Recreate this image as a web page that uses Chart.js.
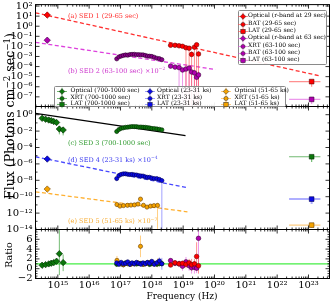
<!DOCTYPE html>
<html>
<head>
<meta charset="utf-8">
<script src="https://cdn.jsdelivr.net/npm/chart.js@4.4.1/dist/chart.umd.min.js"></script>
<style>
  html, body { margin: 0; padding: 0; background: #fff; }
  #fig { position: relative; width: 336px; height: 308px; overflow: hidden; font-family: "DejaVu Serif", serif; color: #000; }
  #fig canvas { position: absolute; left: 0; top: 0; }
  .t { position: absolute; white-space: nowrap; line-height: 1; transform: translateY(-50%); }
  .c { position: absolute; white-space: nowrap; line-height: 1; transform: translate(-50%, -50%); }
  .rot { position: absolute; white-space: nowrap; line-height: 1; transform: translate(-50%, -50%) rotate(-90deg); }
  sup { font-size: 70%; vertical-align: 0; position: relative; top: -0.5em; }
  .box { position: absolute; box-sizing: border-box; background: rgba(255,255,255,0.92); border: 1px solid #8a8a8a; border-radius: 1.5px; }
  .mk { position: absolute; transform: translate(-50%, -50%); display: block; }
</style>
</head>
<body>
<div id="fig">
  <canvas id="cTop" width="336" height="308"></canvas>
  <canvas id="cMid" width="336" height="308"></canvas>
  <canvas id="cRat" width="336" height="308"></canvas>
</div>
<script>
// axis ranges and tick labels
const xMin = 1.94e14, xMax = 4.68e23;
const topMin = 1.1e-8, topMax = 139;
const midMin = 1e-14, midMax = 10;
const ratMin = -2, ratMax = 8;
const xTicks = [1e15, 1e16, 1e17, 1e18, 1e19, 1e20, 1e21, 1e22, 1e23];
const topTicks = [1e2, 1e1, 1, 1e-1, 1e-2, 1e-3, 1e-4, 1e-5, 1e-6, 1e-7];
const midTicks = [1, 1e-2, 1e-4, 1e-6, 1e-8, 1e-10, 1e-12, 1e-14];
const ratTicks = [-2, 0, 2, 4, 6];

// frequencies (Hz)
const optNu = [4.6e14];
const sed3OptNu = [3.16e14, 4.07e14, 5.13e14, 6.17e14, 7.41e14, 9.12e14, 1.12e15, 1.48e15];
const xrtNu = [7.59e16, 8.91e16, 1.05e17, 1.23e17, 1.45e17, 1.70e17, 2.00e17, 2.34e17, 2.75e17, 3.24e17, 3.80e17,
               4.47e17, 5.25e17, 6.17e17, 7.24e17, 8.51e17, 1.00e18, 1.20e18, 1.45e18, 1.74e18, 2.09e18];
const xrt5Nu = [7.73e16, 9.64e16, 1.25e17, 1.67e17, 2.16e17, 2.80e17, 3.62e17, 4.35e17, 5.42e17, 7.01e17, 9.08e17, 1.17e18, 1.52e18];
const batNu = [3.98e18, 5.50e18, 7.41e18, 9.55e18, 1.23e19, 1.55e19, 1.86e19, 2.29e19, 2.69e19, 3.09e19];
const latNu = [1.26e23], latNuLo = [2.4e22], latNuHi = [2.4e23];

// SED 1 (29-65 sec)
const sed1OptF = [12.8], sed1OptLo = [10.2], sed1OptHi = [16.0];
const sed1BatF  = [1.29e-2, 1.29e-2, 1.15e-2, 1.02e-2, 7.4e-3, 6.6e-3, 1.6e-3, 8.3e-3, 1.45e-2, 1.76e-3];
const sed1BatLo = [9.5e-3, 9.6e-3, 8.4e-3, 7.2e-3, 1e-9, 1e-9, 1e-9, 1e-9, 1e-9, 1e-9];
const sed1BatHi = [1.7e-2, 1.7e-2, 1.55e-2, 1.4e-2, 1.1e-2, 1.0e-2, 3.2e-3, 1.3e-2, 2.1e-2, 3.6e-3];
const sed1LatF = [3.24e-6], sed1LatLo = [1.0e-6], sed1LatHi = [4.6e-6];
const sed1ModelNu = [1.94e14, 2.25e23], sed1ModelF = [21.3, 1.21e-5];

// SED 2 (63-100 sec), x1e-2
const sed2OptF = [4.1e-2], sed2OptLo = [3.3e-2], sed2OptHi = [5.1e-2];
const sed2XrtF = [5.8e-4, 9.1e-4, 1.10e-3, 1.26e-3, 1.41e-3, 1.35e-3, 1.57e-3, 1.62e-3, 1.64e-3, 1.50e-3, 1.51e-3,
                  1.47e-3, 1.45e-3, 1.26e-3, 1.10e-3, 1.06e-3, 1.01e-3, 8.3e-4, 6.7e-4, 6.1e-4, 4.8e-4];
const sed2XrtErr = [0.35, 0.28, 0.22, 0.2, 0.2, 0.2, 0.2, 0.2, 0.2, 0.2, 0.2, 0.2, 0.2, 0.2, 0.22, 0.22, 0.24, 0.26, 0.28, 0.3, 0.35];
const sed2BatF  = [1.11e-4, 8.9e-5, 7.9e-5, 4.6e-5, 5.7e-5, 7.1e-5, 2.9e-5, 2.35e-5, 8.7e-6, 1.5e-5];
const sed2BatLo = [7.8e-5, 6.0e-5, 1e-9, 1e-9, 1e-9, 1e-9, 1e-9, 1e-9, 1e-9, 1e-9];
const sed2BatHi = [1.5e-4, 1.25e-4, 1.15e-4, 7.5e-5, 9e-5, 1.1e-4, 5.5e-5, 4.8e-5, 2.2e-5, 3.6e-5];
const sed2LatF = [5.6e-8], sed2LatLo = [2.0e-8], sed2LatHi = [9.3e-8];
const sed2ModelNu = [1.94e14, 1.08e20], sed2ModelF = [2.5e-2, 5.1e-5];

// SED 3 (700-1000 sec)
const sed3OptF  = [0.363, 0.282, 0.225, 0.19, 0.148, 0.112, 0.0179, 0.0136];
const sed3OptLo = [0.31, 0.24, 0.19, 0.16, 0.125, 0.094, 0.004, 0.003];
const sed3OptHi = [0.42, 0.33, 0.26, 0.22, 0.17, 0.13, 0.042, 0.03];
const sed3XrtF = [8.9e-3, 1.56e-2, 2.18e-2, 2.51e-2, 2.90e-2, 3.0e-2, 3.33e-2, 3.6e-2, 3.52e-2, 3.43e-2, 3.1e-2,
                  3.15e-2, 2.98e-2, 2.9e-2, 2.66e-2, 2.44e-2, 2.1e-2, 2.07e-2, 1.85e-2, 1.65e-2, 1.43e-2];
const sed3XrtErr = [0.45, 0.35, 0.3, 0.28, 0.25, 0.25, 0.25, 0.25, 0.25, 0.25, 0.25, 0.25, 0.25, 0.25, 0.27, 0.27, 0.28, 0.3, 0.3, 0.33, 0.4];
const sed3LatF = [7.45e-6], sed3LatLo = [1.7e-6], sed3LatHi = [1.2e-5];
const sed3ModelNu = [1.94e14, 1.19e19], sed3ModelF = [1.48, 2.88e-3];

// SED 4 (23-31 ks), x1e-4
const sed4OptF = [3.9e-6], sed4OptLo = [3.2e-6], sed4OptHi = [4.7e-6];
const sed4XrtF = [1.62e-8, 3.77e-8, 5.28e-8, 6.08e-8, 6.3e-8, 5.43e-8, 4.99e-8, 5.28e-8, 4.59e-8, 4.4e-8, 3.77e-8,
                  3.37e-8, 3.3e-8, 2.62e-8, 2.27e-8, 2.3e-8, 1.87e-8, 1.62e-8, 1.6e-8, 1.29e-8, 9.2e-9];
const sed4XrtErr = [0.5, 0.35, 0.3, 0.28, 0.28, 0.28, 0.28, 0.28, 0.3, 0.3, 0.3, 0.3, 0.32, 0.32, 0.34, 0.34, 0.36, 0.38, 0.4, 0.45, 1];
const sed4LatF = [5.1e-11], sed4LatLo = [1.3e-11], sed4LatHi = [8.9e-11];
const sed4ModelNu = [1.94e14, 1.28e19], sed4ModelF = [7.45e-6, 1.29e-9];

// SED 5 (51-65 ks), x1e-7
const sed5OptF = [8.5e-10], sed5OptLo = [7.0e-10], sed5OptHi = [1.03e-9];
const sed5XrtF = [1.09e-11, 7.1e-12, 8.2e-12, 8.9e-12, 9.4e-12, 1.0e-11, 1.25e-11, 5.1e-11, 8.9e-12, 5.4e-12, 7.1e-12, 8.2e-12, 8.7e-12];
const sed5XrtErr = [0.35, 0.35, 0.3, 0.3, 0.3, 0.3, 0.35, 0.55, 0.3, 0.4, 0.35, 0.4, 1];
const sed5LatF = [3.4e-14], sed5LatLo = [1.6e-14], sed5LatHi = [4.6e-14];
const sed5ModelNu = [1.94e14, 1.37e19], sed5ModelF = [3.98e-10, 1.44e-12];

// data / model ratios
const ratOpt   = [0.71, 0.83, 0.98, 1.12, 1.24, 1.52, 3.06, 1.25];
const ratOptLo = [0.6, 0.72, 0.86, 0.99, 1.1, 1.36, -1.3, -0.5];
const ratOptHi = [0.82, 0.94, 1.1, 1.25, 1.38, 1.68, 8.5, 2.9];
const ratXrt3 = [0.9, 1.1, 1.0, 0.8, 1.2, 1.0, 0.9, 1.1, 1.0, 0.95, 1.05, 1.1, 0.9, 1.0, 1.2, 0.85, 1.0, 1.1, 0.9, 1.0, 1.05];
const ratXrt3Err = [0.5, 0.4, 0.35, 0.3, 0.3, 0.3, 0.3, 0.3, 0.3, 0.3, 0.3, 0.3, 0.3, 0.35, 0.35, 0.35, 0.4, 0.4, 0.45, 0.5, 0.6];
const ratXrt4 = [1.2, 0.9, 1.3, 1.0, 1.1, 1.4, 0.9, 1.2, 1.0, 1.3, 1.1, 0.9, 1.2, 1.0, 1.3, 1.1, 1.5, 0.9, 1.2, 1.6, 1.0];
const ratXrt4Err = [0.6, 0.4, 0.35, 0.3, 0.3, 0.35, 0.3, 0.3, 0.3, 0.35, 0.35, 0.35, 0.4, 0.4, 0.45, 0.45, 0.5, 0.5, 0.6, 0.7, 1.2];
const ratXrt5 = [1.7, 1.0, 0.8, 1.1, 0.9, 1.0, 1.2, 4.56, 0.9, 1.1, 1.3, 1.0, 1.2];
const ratXrt5Err = [0.9, 0.5, 0.45, 0.4, 0.4, 0.4, 0.45, 2.2, 0.45, 0.5, 0.55, 0.6, 0.9];
const ratBat1 = [0.75, 1.2, 1.0, 1.1, 0.9, 1.2, 0.8, 1.0, 2.5, 0.6];
const ratBat1Err = [0.3, 0.4, 0.4, 0.5, 0.8, 0.8, 1.2, 1.0, 2.9, 1.6];
const ratBat2 = [1.65, 1.1, 1.0, 0.5, 1.4, 0.6, 0.2, 0.3, 0.1, 6.2];
const ratBat2Err = [0.5, 0.6, 0.7, 0.9, 1.0, 1.0, 1.2, 1.3, 1.0, 5.8];
const ratLineNu = [xMin, xMax], ratLine = [1, 1];

// legend and annotation texts
const legend1 = ['Optical (r-band at 29 sec)', 'BAT (29-65 sec)', 'LAT (29-65 sec)', 'Optical (r-band at 63 sec)',
                 'XRT (63-100 sec)', 'BAT (63-100 sec)', 'LAT (63-100 sec)'];
const legend2 = [['Optical (700-1000 sec)', 'XRT (700-1000 sec)', 'LAT (700-1000 sec)'],
                 ['Optical (23-31 ks)', 'XRT (23-31 ks)', 'LAT (23-31 ks)'],
                 ['Optical (51-65 ks)', 'XRT (51-65 ks)', 'LAT (51-65 ks)']];
const notes = ['(a) SED 1 (29-65 sec)', '(b) SED 2 (63-100 sec) ×10<sup>−2</sup>', '(c) SED 3 (700-1000 sec)',
               '(d) SED 4 (23-31 ks) ×10<sup>−4</sup>', '(e) SED 5 (51-65 ks) ×10<sup>−7</sup>'];

// ---------------------------------------------------------------
const col = {
  red: '#ff0000', redE: 'rgba(255,70,70,0.6)', redL: '#ff3030', redT: '#ff2a2a',
  mag: '#b000b0', magE: 'rgba(220,70,220,0.55)', magL: '#dd40dd', magT: '#cc33cc',
  grn: '#0c760c', grnE: 'rgba(40,150,40,0.65)', grnT: '#2e9a2e',
  blu: '#0a0ae6', bluE: 'rgba(70,70,255,0.5)', bluL: '#4848ff', bluT: '#3838ee',
  org: '#f5a300', orgE: 'rgba(255,175,50,0.6)', orgL: '#ffb030', orgT: '#f7ad35'
};
const xrtBin = 1.085, batBin = 1.1, optBin = 1.12;

const sup = s => String(s).replace(/[-0-9]/g, c => '⁻⁰¹²³⁴⁵⁶⁷⁸⁹'['-0123456789'.indexOf(c)]);
const powLabel = v => '10' + sup(Math.round(Math.log10(v)));
const ratLabel = v => v < 0 ? '\u2212' + Math.abs(v) : String(v);

const pts = (nu, f) => nu.map((n, i) => ({ x: n, y: f[i] }));
const errY = (nu, lo, hi) => nu.flatMap((n, i) => [{ x: n, y: lo[i] }, { x: n, y: hi[i] }, { x: n, y: null }]);
const errX = (nu, f, lo, hi) => nu.flatMap((n, i) => [{ x: lo[i], y: f[i] }, { x: hi[i], y: f[i] }, { x: n, y: null }]);
const widen = (nu, k) => [nu.map(n => n / k), nu.map(n => n * k)];
const fracLo = (f, e, floor) => f.map((v, i) => e[i] >= 1 ? floor : v * (1 - e[i]));
const fracHi = (f, e) => f.map((v, i) => v * (1 + e[i]));
const absLo = (r, e) => r.map((v, i) => v - e[i]);
const absHi = (r, e) => r.map((v, i) => v + e[i]);

function marks(nu, f, fill, edge, style, r) {
  return { data: pts(nu, f), pointStyle: style, pointRadius: r, backgroundColor: fill,
           borderColor: edge, borderWidth: 0.6, order: 1 };
}
function bars(data, color, w) {
  return { data, showLine: true, spanGaps: false, borderColor: color, borderWidth: w || 1, pointRadius: 0, order: 3 };
}
// vertical and horizontal bars of one series in one dataset
function errs(nu, f, lo, hi, nuLo, nuHi, color, w) {
  return bars(errY(nu, lo, hi).concat(errX(nu, f, nuLo, nuHi)), color, w);
}
function curve(nu, f, color, dash, w) {
  return { data: pts(nu, f), showLine: true, borderColor: color, borderDash: dash, borderWidth: w,
           pointRadius: 0, order: 5 };
}

// ---- top panel: SED 1 and SED 2 ----
const topSets = [
  curve(sed1ModelNu, sed1ModelF, col.redL, [4, 2.5], 1.3),
  curve(sed2ModelNu, sed2ModelF, col.magL, [4, 2.5], 1.3),
  errs(optNu, sed1OptF, sed1OptLo, sed1OptHi, ...widen(optNu, optBin), col.redE),
  errs(batNu, sed1BatF, sed1BatLo, sed1BatHi, ...widen(batNu, batBin), col.redE),
  errs(latNu, sed1LatF, sed1LatLo, sed1LatHi, latNuLo, latNuHi, col.redE, 1.2),
  errs(optNu, sed2OptF, sed2OptLo, sed2OptHi, ...widen(optNu, optBin), col.magE),
  errs(xrtNu, sed2XrtF, fracLo(sed2XrtF, sed2XrtErr, 1e-12), fracHi(sed2XrtF, sed2XrtErr), ...widen(xrtNu, xrtBin), col.magE),
  errs(batNu, sed2BatF, sed2BatLo, sed2BatHi, ...widen(batNu, batBin), col.magE),
  errs(latNu, sed2LatF, sed2LatLo, sed2LatHi, latNuLo, latNuHi, col.magE, 1.2),
  marks(optNu, sed1OptF, col.red, '#700000', 'rectRot', 3.2),
  marks(batNu, sed1BatF, col.red, '#700000', 'circle', 2.3),
  marks(latNu, sed1LatF, col.red, '#600000', 'rect', 3.3),
  marks(optNu, sed2OptF, col.mag, '#3a003a', 'rectRot', 3.2),
  marks(xrtNu, sed2XrtF, '#8a008a', '#2a002a', 'circle', 2.1),
  marks(batNu, sed2BatF, col.mag, '#3a003a', 'circle', 2.3),
  marks(latNu, sed2LatF, col.mag, '#3a003a', 'rect', 3.3)
];

// ---- middle panel: SED 3, 4, 5 ----
const midSets = [
  curve(sed3ModelNu, sed3ModelF, '#000', [], 1.2),
  curve(sed4ModelNu, sed4ModelF, col.bluL, [4, 2.5], 1.3),
  curve(sed5ModelNu, sed5ModelF, col.orgL, [4, 2.5], 1.3),
  errs(sed3OptNu, sed3OptF, sed3OptLo, sed3OptHi, ...widen(sed3OptNu, optBin), col.grnE),
  errs(xrtNu, sed3XrtF, fracLo(sed3XrtF, sed3XrtErr, 1e-20), fracHi(sed3XrtF, sed3XrtErr), ...widen(xrtNu, xrtBin), col.grnE),
  errs(latNu, sed3LatF, sed3LatLo, sed3LatHi, latNuLo, latNuHi, col.grnE, 1.2),
  errs(optNu, sed4OptF, sed4OptLo, sed4OptHi, ...widen(optNu, optBin), col.bluE),
  errs(xrtNu, sed4XrtF, fracLo(sed4XrtF, sed4XrtErr, 1e-20), fracHi(sed4XrtF, sed4XrtErr), ...widen(xrtNu, xrtBin), col.bluE),
  errs(latNu, sed4LatF, sed4LatLo, sed4LatHi, latNuLo, latNuHi, 'rgba(110,110,255,0.55)', 2),
  errs(optNu, sed5OptF, sed5OptLo, sed5OptHi, ...widen(optNu, optBin), col.orgE),
  errs(xrt5Nu, sed5XrtF, fracLo(sed5XrtF, sed5XrtErr, 1e-20), fracHi(sed5XrtF, sed5XrtErr), ...widen(xrt5Nu, xrtBin), col.orgE),
  errs(latNu, sed5LatF, sed5LatLo, sed5LatHi, latNuLo, latNuHi, col.orgE, 1.2),
  marks(sed3OptNu, sed3OptF, col.grn, '#002800', 'rectRot', 3.2),
  marks(xrtNu, sed3XrtF, col.grn, '#002800', 'circle', 2.1),
  marks(latNu, sed3LatF, col.grn, '#002800', 'rect', 3.3),
  marks(optNu, sed4OptF, col.blu, '#000050', 'rectRot', 3.2),
  marks(xrtNu, sed4XrtF, col.blu, '#000050', 'circle', 2.1),
  marks(latNu, sed4LatF, col.blu, '#000050', 'rect', 3.3),
  marks(optNu, sed5OptF, col.org, '#6a4000', 'rectRot', 3.2),
  marks(xrt5Nu, sed5XrtF, col.org, '#6a4000', 'circle', 2.1),
  marks(latNu, sed5LatF, col.org, '#6a4000', 'rect', 3.3)
];

// ---- ratio panel ----
const ratSets = [
  curve(ratLineNu, ratLine, '#45ee45', [], 1.3),
  errs(sed3OptNu, ratOpt, ratOptLo, ratOptHi, ...widen(sed3OptNu, optBin), col.grnE),
  errs(xrtNu, ratXrt3, absLo(ratXrt3, ratXrt3Err), absHi(ratXrt3, ratXrt3Err), ...widen(xrtNu, xrtBin), col.grnE),
  errs(xrt5Nu, ratXrt5, absLo(ratXrt5, ratXrt5Err), absHi(ratXrt5, ratXrt5Err), ...widen(xrt5Nu, xrtBin), col.orgE),
  errs(xrtNu, ratXrt4, absLo(ratXrt4, ratXrt4Err), absHi(ratXrt4, ratXrt4Err), ...widen(xrtNu, xrtBin), col.bluE),
  errs(batNu, ratBat1, absLo(ratBat1, ratBat1Err), absHi(ratBat1, ratBat1Err), ...widen(batNu, batBin), col.redE),
  errs(batNu, ratBat2, absLo(ratBat2, ratBat2Err), absHi(ratBat2, ratBat2Err), ...widen(batNu, batBin), col.magE),
  marks(xrtNu, ratXrt4, col.blu, '#000050', 'circle', 2.1),
  marks(xrt5Nu, ratXrt5, col.org, '#6a4000', 'circle', 2.1),
  marks(xrtNu, ratXrt3, col.grn, '#002800', 'circle', 2.1),
  marks(sed3OptNu, ratOpt, col.grn, '#002800', 'rectRot', 3.2),
  marks(batNu, ratBat1, col.red, '#700000', 'circle', 2.3),
  marks(batNu, ratBat2, col.mag, '#3a003a', 'circle', 2.3)
];

// inward tick marks and frame (matplotlib look)
const yTickMarks = {
  cTop: topTicks.map(v => [v, 4]),
  cMid: Array.from({ length: 16 }, (_, i) => [Math.pow(10, i - 14), (i - 14) % 2 === 0 ? 4 : 2]),
  cRat: Array.from({ length: 21 }, (_, i) => [-2 + i * 0.5, i % 4 === 0 ? 4 : 2])
};
const frame = {
  id: 'frame',
  afterDraw(chart) {
    const { ctx, chartArea: a } = chart;
    const xs = chart.scales.x, ys = chart.scales.y;
    ctx.save();
    ctx.strokeStyle = '#000';
    ctx.lineWidth = 0.8;
    ctx.beginPath();
    for (let e = 14; e <= 23; e++) {
      for (let k = 1; k <= 9; k++) {
        const v = k * Math.pow(10, e);
        if (v <= xs.min || v >= xs.max) continue;
        const p = xs.getPixelForValue(v), len = k === 1 ? 4 : 2;
        ctx.moveTo(p, a.bottom); ctx.lineTo(p, a.bottom - len);
        ctx.moveTo(p, a.top); ctx.lineTo(p, a.top + len);
      }
    }
    yTickMarks[chart.canvas.id].forEach(([v, len]) => {
      if (v <= ys.min || v >= ys.max) return;
      const p = ys.getPixelForValue(v);
      ctx.moveTo(a.left, p); ctx.lineTo(a.left + len, p);
      ctx.moveTo(a.right, p); ctx.lineTo(a.right - len, p);
    });
    ctx.stroke();
    ctx.lineWidth = 1;
    ctx.strokeRect(a.left, a.top, a.right - a.left, a.bottom - a.top);
    ctx.restore();
  }
};

Chart.defaults.font.family = 'DejaVu Serif';
const tickFont = { family: 'DejaVu Serif', size: 10 };

function yScale(type, min, max, ticks, fmt) {
  return {
    type, min, max, position: 'left',
    afterBuildTicks: s => { s.ticks = ticks.map(v => ({ value: v })); },
    afterFit: s => { s.width = 35.5; s.paddingTop = 0; s.paddingBottom = 0; },
    grid: { display: false, drawTicks: false },
    border: { display: false },
    ticks: { autoSkip: false, padding: 3, color: '#000', font: tickFont, callback: fmt }
  };
}
const xHidden = { type: 'logarithmic', min: xMin, max: xMax, display: false };
const xShown = {
  type: 'logarithmic', min: xMin, max: xMax, position: 'bottom',
  afterBuildTicks: s => { s.ticks = xTicks.map(v => ({ value: v })); },
  afterFit: s => { s.height = 29.5; s.paddingLeft = 0; s.paddingRight = 0; },
  grid: { display: false, drawTicks: false },
  border: { display: false },
  ticks: { autoSkip: false, maxRotation: 0, padding: 1, color: '#000', font: tickFont, callback: powLabel }
};

function make(id, datasets, pad, x, y) {
  return new Chart(document.getElementById(id), {
    type: 'scatter',
    data: { datasets },
    options: {
      responsive: false, animation: false, devicePixelRatio: 1, events: [],
      layout: { padding: pad },
      plugins: { legend: { display: false }, tooltip: { enabled: false } },
      scales: { x, y }
    },
    plugins: [frame]
  });
}

make('cTop', topSets, { left: 0, right: 6.5, top: 1.5, bottom: 201.5 }, xHidden,
     yScale('logarithmic', topMin, topMax, topTicks, powLabel));
make('cMid', midSets, { left: 0, right: 6.5, top: 106.5, bottom: 78.5 }, xHidden,
     yScale('logarithmic', midMin, midMax, midTicks, powLabel));
make('cRat', ratSets, { left: 0, right: 6.5, top: 229.5, bottom: 0 }, xShown,
     yScale('linear', ratMin, ratMax, ratTicks, ratLabel));

// ---- text overlays ----
const fig = document.getElementById('fig');
function add(cls, html, x, y, size, color) {
  const d = document.createElement('div');
  d.className = cls;
  d.style.left = x + 'px'; d.style.top = y + 'px';
  d.style.fontSize = size + 'px';
  if (color) d.style.color = color;
  d.innerHTML = html;
  fig.appendChild(d);
  return d;
}
function box(x, y, w, h) {
  const d = document.createElement('div');
  d.className = 'box';
  Object.assign(d.style, { left: x + 'px', top: y + 'px', width: w + 'px', height: h + 'px' });
  fig.appendChild(d);
}
function marker(x, y, color, errColor, shape) {
  const s = shape === 'd' ? '<path d="M5 1.2L7.8 4L5 6.8L2.2 4Z"/>'
          : shape === 's' ? '<rect x="2.8" y="1.8" width="4.4" height="4.4"/>'
          : '<circle cx="5" cy="4" r="2.1"/>';
  const d = document.createElement('div');
  d.className = 'mk';
  Object.assign(d.style, { left: x + 'px', top: y + 'px' });
  d.innerHTML = '<svg width="10" height="8" viewBox="0 0 10 8"><path d="M0 4H10M5 0V8" stroke="' + errColor +
    '" stroke-width="1"/><g fill="' + color + '" stroke="#222" stroke-width="0.5">' + s + '</g></svg>';
  fig.appendChild(d);
}

// annotations
const noteColors = [col.redT, col.magT, col.grnT, col.bluT, col.orgT];
const noteY = [15.5, 70.5, 142.5, 159.5, 221];
notes.forEach((n, i) => add('t', n, 68, noteY[i], 6.5, noteColors[i]));

// legend 1 (SED 1 and 2)
box(237.5, 10, 89.5, 55);
const l1Colors = [col.red, col.red, col.red, col.mag, col.mag, col.mag, col.mag];
const l1Err = [col.redE, col.redE, col.redE, col.magE, col.magE, col.magE, col.magE];
const l1Shapes = ['d', 'c', 's', 'd', 'c', 'c', 's'];
legend1.forEach((txt, i) => {
  const y = 15.3 + i * 7.35;
  marker(242.5, y, l1Colors[i], l1Err[i], l1Shapes[i]);
  add('t', txt, 248, y, 6);
});

// legend 2 (SED 3, 4, 5)
box(53.5, 85.5, 232.5, 21.5);
const l2Colors = [col.grn, col.blu, col.org], l2Err = [col.grnE, col.bluE, col.orgE];
const l2MarkX = [61.5, 149.5, 225.5], l2TextX = [70.5, 157, 234.5];
const l2Shapes = ['d', 'c', 's'];
legend2.forEach((colTxt, c) => colTxt.forEach((txt, r) => {
  const y = 89.7 + r * 6.8;
  marker(l2MarkX[c], y, l2Colors[c], l2Err[c], l2Shapes[r]);
  add('t', txt, l2TextX[c], y, 6);
}));

// axis titles
add('rot', 'Flux (Photons cm<sup>−2</sup> sec<sup>−1</sup>)', 9.5, 116, 12.5);
add('rot', 'Ratio', 9, 255, 9.5);
add('c', 'Frequency (Hz)', 182, 296, 9);
</script>
</body>
</html>
